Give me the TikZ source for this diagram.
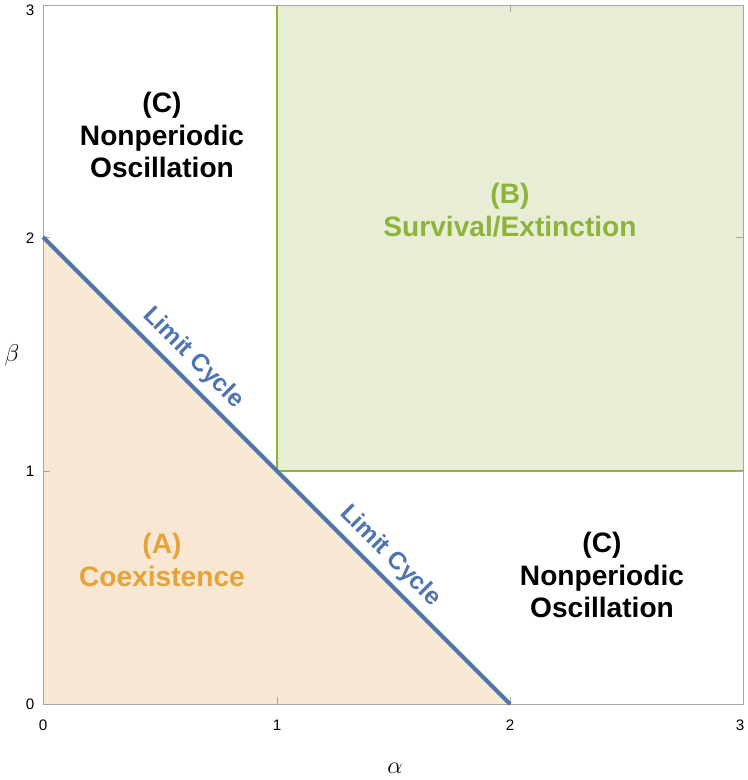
\documentclass[tikz,border=0pt]{standalone}
\usepackage{fontspec}
\setmainfont{Liberation Sans}
\begin{document}
\begin{tikzpicture}[x=0.03cm,y=-0.03cm,
  lbl/.style={font=\fontsize{24}{28}\selectfont\bfseries,align=center},
  tick/.style={font=\fontsize{13}{15}\selectfont},
  lc/.style={font=\fontsize{21}{24}\selectfont\bfseries,text=blueline,rotate=-45}]
\definecolor{orfill}{HTML}{F8E8D3}
\definecolor{grfill}{HTML}{E8EED6}
\definecolor{grline}{HTML}{8DB33A}
\definecolor{blueline}{HTML}{4F74B0}
\definecolor{ortext}{HTML}{E8A23A}
\useasboundingbox (0,0) rectangle (747,780);
\fill[orfill] (43,237) -- (43,704) -- (510,704) -- cycle;
\fill[grfill] (277,5) rectangle (743,471);
\draw[grline,line width=1.2pt] (743,471) -- (277,471) -- (277,5);
\draw[gray!70,line width=0.6pt] (43,5) rectangle (743,704);
\foreach \x in {43,277,510,743}{\draw[gray!70] (\x,704) -- (\x,697); \draw[gray!70] (\x,5) -- (\x,12);}
\foreach \y in {5,237,471,704}{\draw[gray!70] (43,\y) -- (50,\y); \draw[gray!70] (743,\y) -- (736,\y);}
\coordinate (p) at (43,237); \coordinate (q) at (510,704);
\draw[blueline,line width=3.5pt] (p) -- (q);
\node[tick] (x0) at (43,725) {0};
\node[tick] (x1) at (277,725) {1};
\node[tick] (x2) at (510,725) {2};
\node[tick] (x3) at (740,725) {3};
\node[tick] (y0) at (30,704) {0};
\node[tick] (y1) at (30,471) {1};
\node[tick] (y2) at (30,238) {2};
\node[tick] (y3) at (30,10) {3};
\node[font=\fontsize{22}{24}\selectfont] (al) at (395,768) {$\alpha$};
\node[font=\fontsize{22}{24}\selectfont] (be) at (12,355) {$\beta$};
\node[lbl] (c1) at (162,135) {(C)\\Nonperiodic\\Oscillation};
\node[lbl] (c2) at (602,575) {(C)\\Nonperiodic\\Oscillation};
\node[lbl,text=grline] (b) at (510,210) {(B)\\Survival/Extinction};
\node[lbl,text=ortext] (a) at (162,560) {(A)\\Coexistence};
\node[lc] (l1) at (193,358) {Limit Cycle};
\node[lc] (l2) at (390,556) {Limit Cycle};
\end{tikzpicture}
\end{document}
